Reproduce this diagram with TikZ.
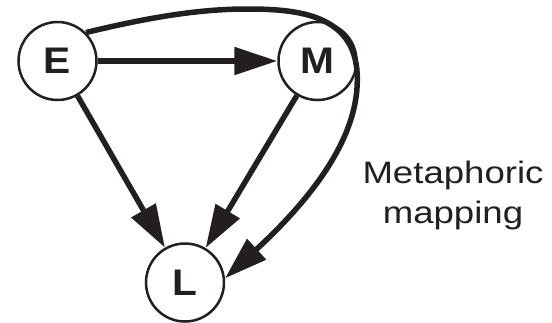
\documentclass[tikz,border=0pt]{standalone}
\usepackage{fontspec}
\setmainfont{Liberation Sans}
\usetikzlibrary{arrows.meta}
\definecolor{ink}{RGB}{35,31,32}
\begin{document}
\begin{tikzpicture}[x=1pt,y=1pt,color=ink,
  state/.style={circle,draw,line width=2.5pt,minimum size=78pt,inner sep=0pt,
    font=\fontsize{37}{37}\selectfont\bfseries},
  link/.style={line width=5.5pt,-{Triangle[length=43pt,width=27pt]}},
  note/.style={anchor=base,inner sep=0pt,font=\fontsize{31}{40}\selectfont}
]
\useasboundingbox (0,0) rectangle (552,-322);
\node[state] (E) at (57.5,-61) {\scalebox{1.1}[1]{E}};
\node[state] (M) at (317.5,-61) {\scalebox{1.1}[1]{M}};
\node[state] (L) at (185,-282.5) {\scalebox{1.1}[1]{L}};
\coordinate (top) at (247,-9);
\coordinate (rt) at (357.3,-80);
\draw[link] (E) -- (M);
\draw[link] (E) -- (L);
\draw[link] (M) -- (L);
\draw[link] (E.45) .. controls (150,-17) and (200,-9) .. (top)
  .. controls (300,-9) and (358,-15) .. (rt)
  .. controls (357.3,-140) and (310,-200) .. (L.6);
\node[note] (t1) at (453,-183) {\scalebox{1.18}[1]{Metaphoric}};
\node[note] (t2) at (453,-223) {\scalebox{1.18}[1]{mapping}};
\end{tikzpicture}
\end{document}
